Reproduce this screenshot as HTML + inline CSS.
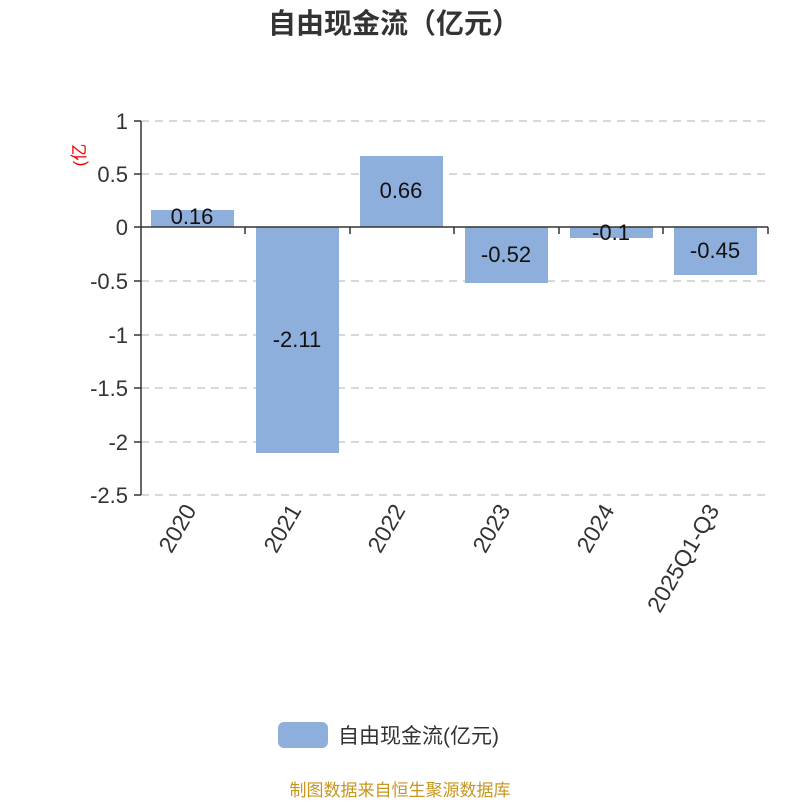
<!DOCTYPE html>
<html><head><meta charset="utf-8"><style>
body{margin:0;background:#fff}
text{font-family:"Liberation Sans","Noto Sans CJK SC",sans-serif}
</style></head><body>
<svg width="800" height="800" xmlns="http://www.w3.org/2000/svg">
<rect width="800" height="800" fill="#fff"/>
<text x="394" y="33" font-size="28" font-weight="bold" fill="#333" text-anchor="middle">自由现金流（亿元）</text>
<g stroke="#ccc" stroke-dasharray="8,6" stroke-width="1.5">
<line x1="141" y1="121" x2="768" y2="121"/>
<line x1="141" y1="174" x2="768" y2="174"/>
<line x1="141" y1="281" x2="768" y2="281"/>
<line x1="141" y1="335" x2="768" y2="335"/>
<line x1="141" y1="388" x2="768" y2="388"/>
<line x1="141" y1="442" x2="768" y2="442"/>
<line x1="141" y1="495" x2="768" y2="495"/>
</g>
<g fill="#8eaedb">
<rect x="151" y="210" width="83" height="17"/>
<rect x="256" y="227" width="83" height="226"/>
<rect x="360" y="156" width="83" height="71"/>
<rect x="465" y="227" width="83" height="56"/>
<rect x="570" y="227" width="83" height="11"/>
<rect x="674" y="227" width="83" height="48"/>
</g>
<g stroke="#333" stroke-width="1.5">
<line x1="141" y1="121" x2="141" y2="495"/>
<line x1="141" y1="227" x2="768" y2="227"/>
<line x1="134" y1="121" x2="141" y2="121"/><line x1="134" y1="174" x2="141" y2="174"/>
<line x1="134" y1="227" x2="141" y2="227"/><line x1="134" y1="281" x2="141" y2="281"/>
<line x1="134" y1="335" x2="141" y2="335"/><line x1="134" y1="388" x2="141" y2="388"/>
<line x1="134" y1="442" x2="141" y2="442"/><line x1="134" y1="495" x2="141" y2="495"/>
<line x1="245" y1="227" x2="245" y2="234"/><line x1="350" y1="227" x2="350" y2="234"/>
<line x1="454" y1="227" x2="454" y2="234"/><line x1="559" y1="227" x2="559" y2="234"/>
<line x1="663" y1="227" x2="663" y2="234"/><line x1="768" y1="227" x2="768" y2="234"/>
</g>
<g font-size="22" fill="#333" text-anchor="end">
<text x="128" y="129">1</text><text x="128" y="182">0.5</text><text x="128" y="235">0</text>
<text x="128" y="289">-0.5</text><text x="128" y="343">-1</text><text x="128" y="396">-1.5</text>
<text x="128" y="450">-2</text><text x="128" y="503">-2.5</text>
</g>
<text transform="translate(85,155) rotate(-90)" font-size="17" fill="#e00" text-anchor="middle">(亿</text>
<g font-size="22" fill="#111" text-anchor="middle">
<text x="192" y="224">0.16</text><text x="297" y="347">-2.11</text><text x="401" y="198">0.66</text>
<text x="506" y="262">-0.52</text><text x="611" y="240">-0.1</text><text x="715" y="258">-0.45</text>
</g>
<g font-size="23" fill="#333" text-anchor="end">
<text transform="translate(197,510) rotate(-60)">2020</text>
<text transform="translate(302,510) rotate(-60)">2021</text>
<text transform="translate(406,510) rotate(-60)">2022</text>
<text transform="translate(511,510) rotate(-60)">2023</text>
<text transform="translate(615,510) rotate(-60)">2024</text>
<text transform="translate(720,510) rotate(-60)">2025Q1-Q3</text>
</g>
<rect x="278" y="722" width="50" height="26" rx="6" fill="#8eaedb"/>
<text x="338" y="743" font-size="21" fill="#333">自由现金流(亿元)</text>
<text x="400" y="796" font-size="17" fill="#c8961e" text-anchor="middle">制图数据来自恒生聚源数据库</text>
</svg>
</body></html>
